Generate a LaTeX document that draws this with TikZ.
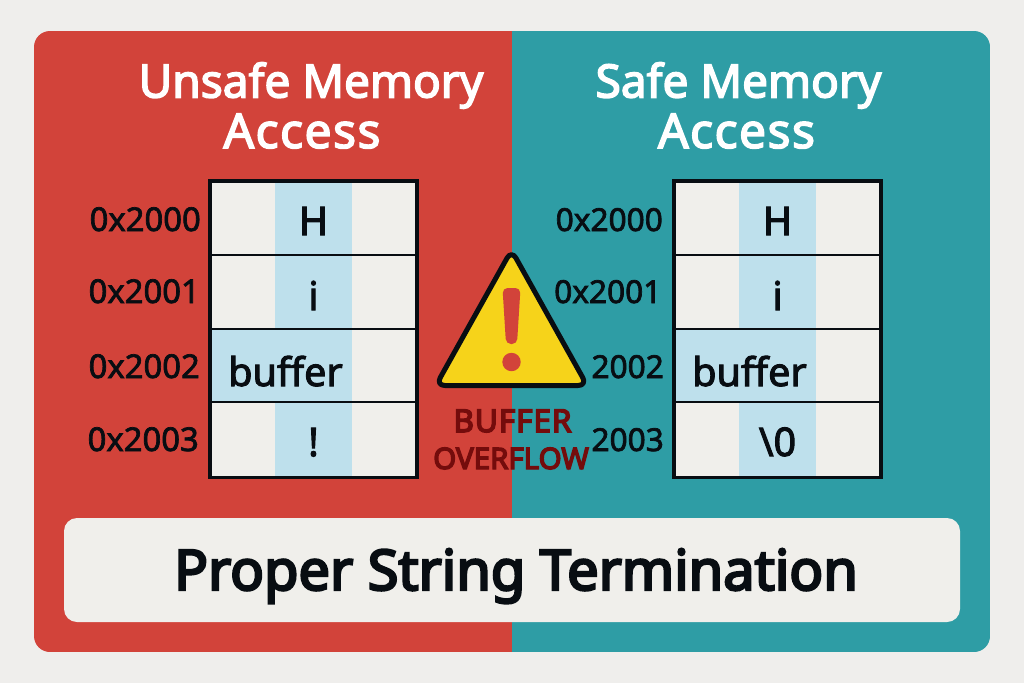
\documentclass[tikz,border=0pt]{standalone}
\usepackage{fontspec}
\setmainfont{Noto Sans}
\usetikzlibrary{calc}
\newcommand{\heavy}[2]{\special{pdf:code q 2 Tr #1 w}#2\special{pdf:code Q}}
\definecolor{pagebg}{HTML}{EFEEEC}
\definecolor{redpanel}{HTML}{D2433A}
\definecolor{tealpanel}{HTML}{2E9DA5}
\definecolor{cellbg}{HTML}{F0EFEB}
\definecolor{cellblue}{HTML}{BEE0EC}
\definecolor{ink}{HTML}{080D12}
\definecolor{warn}{HTML}{F6D31A}
\definecolor{darkred}{HTML}{740C0C}
\tikzset{
  titletext/.style={text=white,font=\fontsize{46}{51}\selectfont,inner sep=0pt,anchor=base},
  titlewide/.style={text=white,font=\fontsize{48}{51}\selectfont\addfontfeature{LetterSpace=3},inner sep=0pt,anchor=base},
  addrL/.style={text=ink,font=\fontsize{32.8}{36}\selectfont,inner sep=0pt,anchor=base east},
  addrR/.style={text=ink,font=\fontsize{31.6}{36}\selectfont,inner sep=0pt,anchor=base east},
  celltext/.style={text=ink,font=\fontsize{39.5}{44}\selectfont,inner sep=0pt,anchor=base},
  warntext/.style={text=darkred,font=\fontsize{29.5}{35}\selectfont,inner sep=0pt,anchor=base},
  warnbig/.style={text=darkred,font=\fontsize{31.5}{35}\selectfont\addfontfeature{LetterSpace=3},inner sep=0pt,anchor=base},
}
\begin{document}
\begin{tikzpicture}[x=1pt,y=-1pt]
\useasboundingbox (0,0) rectangle (1024,683);
\fill[pagebg] (0,0) rectangle (1024,683);
% panels
\begin{scope}
\clip[rounded corners=16pt] (34,31) rectangle (990,652);
\fill[redpanel] (34,31) rectangle (512,652);
\fill[tealpanel] (512,31) rectangle (990,652);
\end{scope}
\node[titletext] (t1) at (311,97.5) {\heavy{1.5}{Unsafe Memory}};
\node[titlewide] (t1b) at (302,148) {\heavy{1.5}{Access}};
\node[titletext] (t2) at (738.5,97.5) {\heavy{1.5}{Safe Memory}};
\node[titlewide] (t2b) at (736.5,148) {\heavy{1.5}{Access}};
% tables
\foreach \ox/\tag/\lastt in {0/L/!,464/R/{\textbackslash 0}}{
  \begin{scope}[shift={(\ox,0)}]
  \fill[cellbg] (208,180) rectangle (419,479);
  \fill[cellblue] (275,180) rectangle (352,479);
  \fill[cellblue] (208,329) rectangle (275,402);
  \draw[ink,line width=2.5pt] (208,255) -- (419,255) (208,329) -- (419,329) (208,402) -- (419,402);
  \draw[ink,line width=3.6pt] (209.8,181) rectangle (417.2,477.5);
  \node[celltext] (h\tag) at (313.5,235) {\heavy{1}{H}};
  \node[celltext] (i\tag) at (313.5,310) {\heavy{1}{i}};
  \node[celltext] (b\tag) at (285.5,386) {\heavy{1}{buffer}};
  \node[celltext] (e\tag) at (313.5,456) {\heavy{1}{\lastt}};
  \end{scope}
}
% addresses
\node[addrL] (a0) at (201,231) {\heavy{0.7}{0x2000}};
\node[addrL] (a1) at (200,303) {\heavy{0.7}{0x2001}};
\node[addrL] (a2) at (200,378) {\heavy{0.7}{0x2002}};
\node[addrL] (a3) at (199,451) {\heavy{0.7}{0x2003}};
\node[addrR] (b0) at (663,231) {\heavy{0.7}{0x2000}};
\node[addrR] (b1) at (661.5,303) {\heavy{0.7}{0x2001}};
\node[addrR] (b2) at (664,378) {\heavy{0.7}{2002}};
\node[addrR] (b3) at (664,451) {\heavy{0.7}{2003}};
% warning sign
\draw[ink,fill=warn,line width=5pt,line join=round,rounded corners=9pt] (511.5,250.1) -- (587.15,385.5) -- (435.85,385.5) -- cycle;
\fill[redpanel,rounded corners=5pt] (502.5,288) -- (520.5,288) -- (517,344) -- (506,344) -- cycle;
\fill[redpanel] (511.5,362) circle (9.2pt);
\node[warnbig] (w) at (512.5,432) {\heavy{1.5}{BUFFER}};
\node[warntext] (w2) at (511,469) {\heavy{1.4}{OVERFLOW}};
% bottom banner
\fill[cellbg,rounded corners=13pt] (64,518) rectangle (960,622);
\node[text=ink,font=\fontsize{56}{60}\selectfont,inner sep=0pt,anchor=base] (p) at (516,590) {\heavy{2.4}{Proper String Termination}};
\end{tikzpicture}
\end{document}
